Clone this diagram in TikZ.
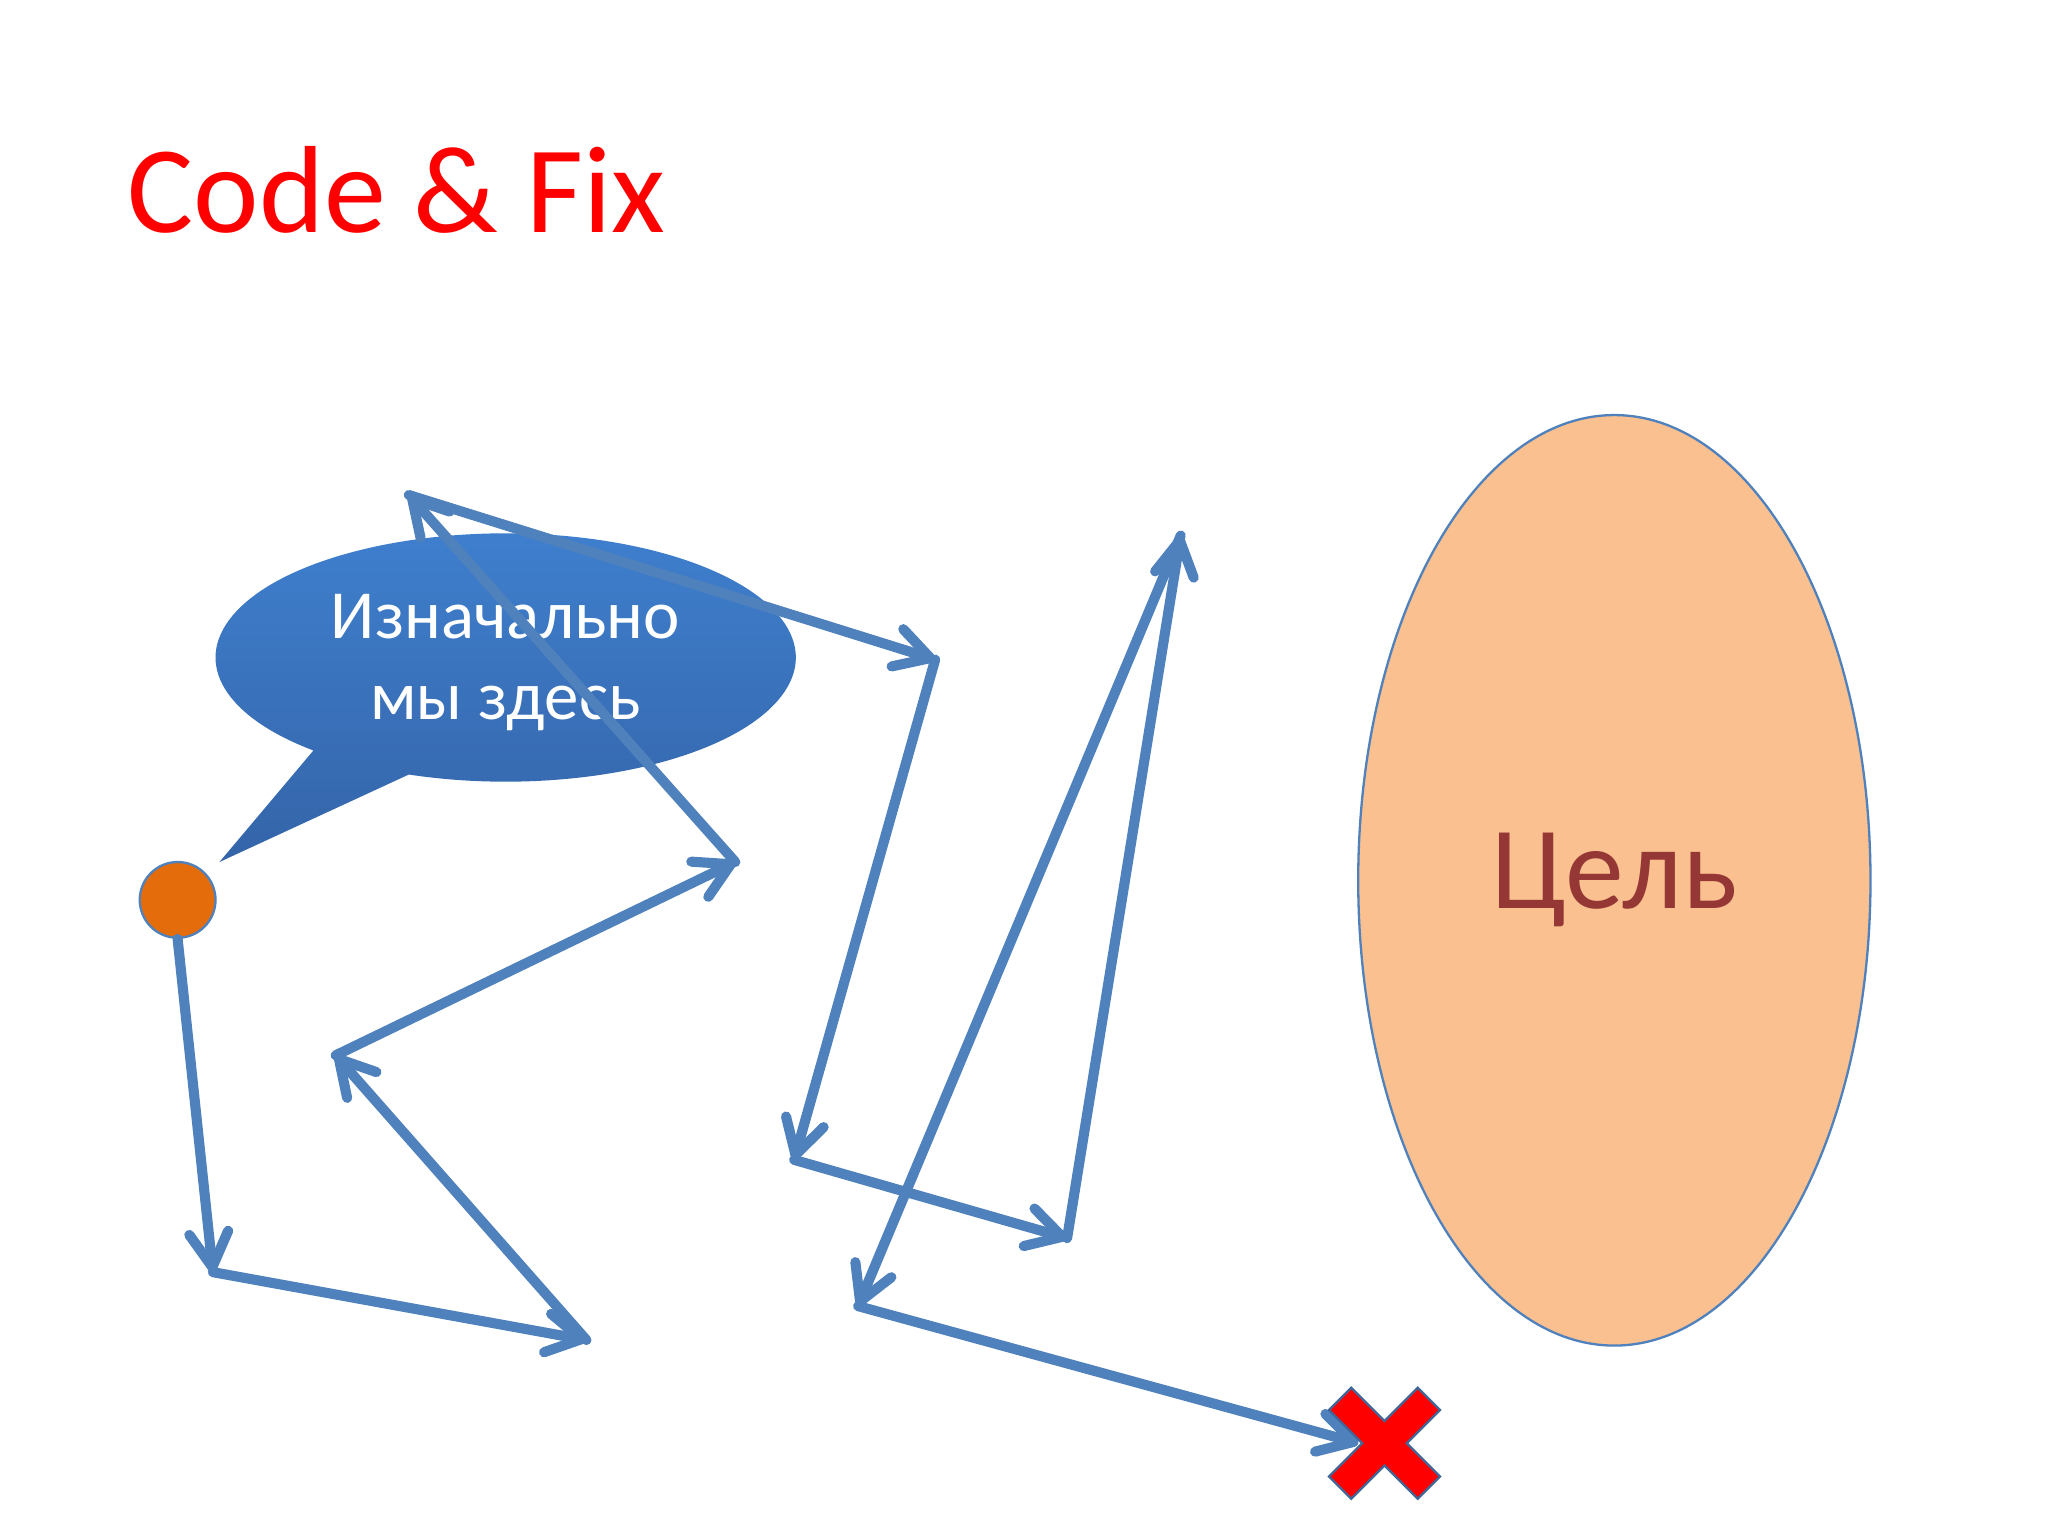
\documentclass[tikz,border=0pt]{standalone}
\usepackage{fontspec}
\setmainfont{Carlito}
\usetikzlibrary{arrows.meta,shapes.geometric}
\definecolor{arrowblue}{HTML}{4F81BD}
\definecolor{calltop}{HTML}{3F80CF}
\definecolor{callbot}{HTML}{3464A8}
\definecolor{orangec}{HTML}{E46C0A}
\definecolor{goalfill}{HTML}{FAC090}
\definecolor{goaltext}{HTML}{953735}
\tikzset{
  move/.style={draw=arrowblue, line width=2.2pt, line cap=round, line join=round,
    -{Straight Barb[round, length=7.5pt, width=8.5pt]}},
  titletext/.style={anchor=base west, text=red, inner sep=0, font=\fontsize{27}{32}\selectfont},
  calltext/.style={text=white, align=center, inner sep=0, font=\fontsize{15}{17.6}\selectfont},
  goalshape/.style={ellipse, fill=goalfill, draw=arrowblue, line width=0.5pt, minimum width=3.92cm,
    minimum height=7.12cm, inner sep=0, text=goaltext, font=\fontsize{25.6}{30}\selectfont},
  startdot/.style={circle, fill=orangec, draw=arrowblue, line width=0.5pt, minimum size=0.58cm, inner sep=0}
}
\begin{document}
\begin{tikzpicture}[x=0.01cm,y=-0.01cm]
\useasboundingbox[fill=white] (0,0) rectangle (1568,1176);

\node[titletext] (title) at (97,178) {Code \& Fix};

% goal
\node[goalshape] (goal) at (1236,674) {Цель};

% callout
\shade[top color=calltop, bottom color=callbot]
  (313,593) arc[start angle=250.5, end angle=588.5, x radius=2.22cm, y radius=0.95cm]
  -- (168,660) -- cycle;
\node[calltext] (callouttext) at (387,507) {Изначально\\мы здесь};

% start point
\node[startdot] (start) at (136,689) {};

% path points
\coordinate (p1) at (163,974);
\coordinate (p2) at (449,1026);
\coordinate (p3) at (257,808);
\coordinate (p4) at (563,660);
\coordinate (p5) at (313,379);
\coordinate (p6) at (716,505);
\coordinate (p7) at (608,888);
\coordinate (p8) at (817,948);
\coordinate (p9) at (904,410);
\coordinate (p10) at (657,1000);
\coordinate (p11) at (1040,1105);

\draw[move] (start.south) -- (p1);
\draw[move] (p1) -- (p2);
\draw[move] (p2) -- (p3);
\draw[move] (p3) -- (p4);
\draw[move] (p4) -- (p5);
\draw[move] (p5) -- (p6);
\draw[move] (p6) -- (p7);
\draw[move] (p7) -- (p8);
\draw[move] (p8) -- (p9);
\draw[move] (p9) -- (p10);
\draw[move] (p10) -- (p11);

% fail cross
\coordinate (fail) at (1060,1105);
\begin{scope}[shift={(fail)}, rotate=45]
\filldraw[fill=red, draw=arrowblue!80!black, line width=0.5pt]
  (-12,-48) -- (12,-48) -- (12,-12) -- (48,-12) -- (48,12) -- (12,12) -- (12,48)
  -- (-12,48) -- (-12,12) -- (-48,12) -- (-48,-12) -- (-12,-12) -- cycle;
\end{scope}
\end{tikzpicture}
\end{document}
